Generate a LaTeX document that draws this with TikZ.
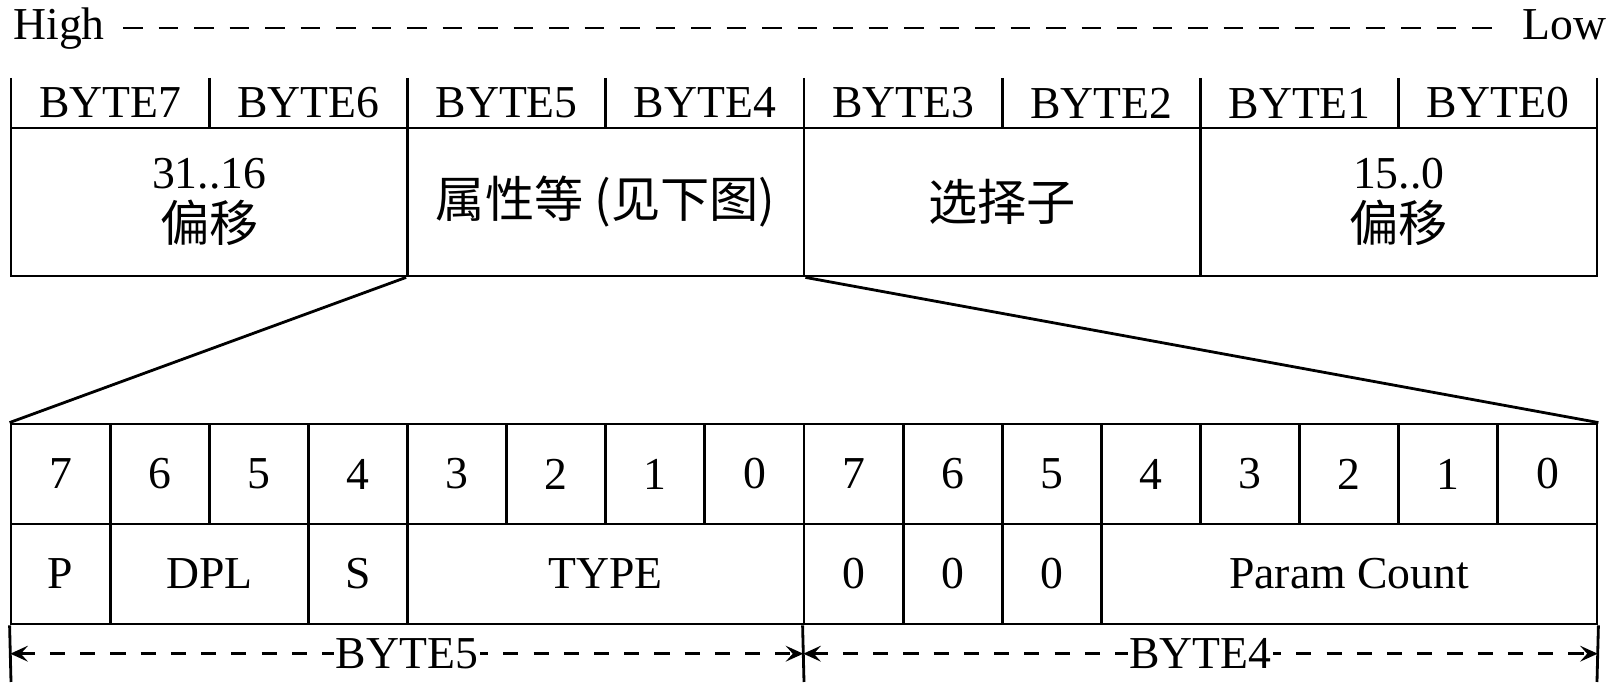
\documentclass[tikz,border=0pt]{standalone}
\usepackage{fontspec}
\setmainfont{Liberation Serif}
\newfontfamily\cjk{Noto Sans CJK SC}
\usetikzlibrary{positioning}
\usetikzlibrary{calc}
\usetikzlibrary{arrows.meta}

\tikzset{
  txt/.style={font=\fontsize{13}{15}\selectfont},
  field/.style={draw, txt, align=center, minimum width=3.965cm, minimum height=1.48cm, inner sep=0pt},
  bitbox/.style={draw, txt, minimum width=0.99125cm, minimum height=1cm, inner sep=0pt},
  dimline/.style={dash pattern=on 4.3pt off 4.3pt, {Stealth[length=5pt,width=4.5pt,inset=2pt]}-{Stealth[length=5pt,width=4.5pt,inset=2pt]}},
  dimlabel/.style={txt, fill=white, inner sep=0.5pt},
}
\newcommand{\zh}[1]{{\cjk\fontsize{14}{15}\selectfont #1}}

\begin{document}
\begin{tikzpicture}[thick]
   \useasboundingbox (0,0) rectangle (16.1,6.96);
   %
   \node[txt, inner sep=0pt, anchor=base west] (high) at (0.12,6.56) {High};
   \node[txt, inner sep=0pt, anchor=base east] (low) at (16.08,6.56) {Low};
   \draw[dash pattern=on 5.6pt off 4.5pt] ($(high.base east)+(0.17,0.12)$) -- ($(low.base west)+(-0.17,0.12)$);
   %
   \foreach \i in {0,...,7} {
     \pgfmathtruncatemacro\b{7-\i}
     \node[txt] (byte\b) at (0.11+0.99125+1.9825*\i,5.93) {BYTE\b};
   }
   \foreach \i in {0,...,8}
     \draw (0.11+1.9825*\i,6.18) -- (0.11+1.9825*\i,5.68);
   %
   \node[field] (offhi) at (2.0925,4.94) {31..16\\\zh{偏移}};
   \node[field] (attr) at (6.0575,4.94) {\zh{属性等 (见下图)}};
   \node[field] (sel) at (10.0225,4.94) {\zh{选择子}};
   \node[field] (offlo) at (13.9875,4.94) {15..0\\\zh{偏移}};
   %
   \foreach \i in {0,...,15} {
     \pgfmathtruncatemacro\b{mod(23-\i,8)}
     \node[bitbox] (bit\i) at (0.11+0.495625+0.99125*\i,2.22) {\b};
   }
   \foreach \s/\n/\t in {0/1/P, 1/2/DPL, 3/1/S, 4/4/TYPE, 8/1/0, 9/1/0, 10/1/0, 11/5/Param Count}
     \node[bitbox, minimum width=\n*0.99125cm] (fld\s) at (0.11+0.99125*\s+0.495625*\n,1.22) {\t};
   %
   \draw (attr.south west) -- (bit0.north west);
   \draw (attr.south east) -- (bit15.north east);
   %
   \coordinate (e0) at (0.11,0.14);
   \coordinate (e8) at (8.04,0.14);
   \coordinate (e16) at (15.97,0.14);
   \draw (fld0.south west) -- (e0);
   \draw (fld8.south west) -- (e8);
   \draw (fld11.south east) -- (e16);
   \draw[dimline] ($(fld0.south west)!.5!(e0)$) -- node[dimlabel] {BYTE5} ($(fld8.south west)!.5!(e8)$);
   \draw[dimline] ($(fld8.south west)!.5!(e8)$) -- node[dimlabel] {BYTE4} ($(fld11.south east)!.5!(e16)$);
   %
\end{tikzpicture}
\end{document}
